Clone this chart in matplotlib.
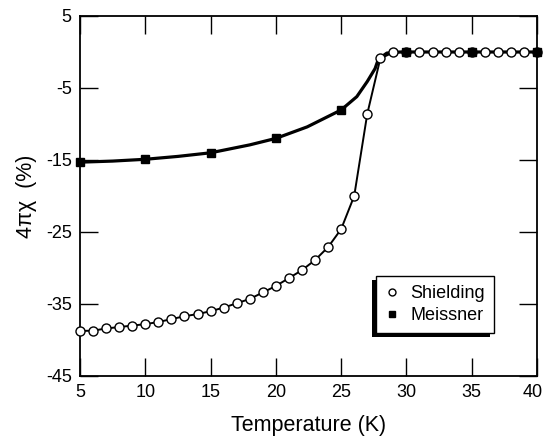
import matplotlib.pyplot as plt
import matplotlib.transforms as mtransforms
from matplotlib.lines import Line2D
from matplotlib.patches import Rectangle

plt.rcParams['font.family'] = ['Liberation Sans', 'DejaVu Sans']
plt.rcParams['axes.unicode_minus'] = False

# Shielding (ZFC) data, one point per K
shield_T = [5, 6, 7, 8, 9, 10, 11, 12, 13, 14, 15, 16, 17, 18, 19, 20, 21, 22,
            23, 24, 25, 26, 27, 28, 29, 30, 31, 32, 33, 34, 35, 36, 37, 38, 39, 40]
shield_chi = [-38.75, -38.7, -38.4, -38.2, -38.0, -37.8, -37.5, -37.1, -36.7,
              -36.4, -36.0, -35.5, -34.9, -34.3, -33.4, -32.5, -31.4, -30.3,
              -28.9, -27.1, -24.6, -20.0, -8.6, -0.9, -0.05, 0, 0, 0, 0, 0, 0,
              0, 0, 0, 0, 0]

# Meissner (FC) data
meis_T = [5, 10, 15, 20, 25, 30, 35, 40]
meis_chi = [-15.3, -14.9, -14.0, -12.0, -8.05, 0, 0, 0]

# smooth guide line
meis_line_T = [5, 7.5, 10, 12.5, 15, 16.5, 18, 20, 22.4, 25, 26.2, 27, 27.6,
               27.85, 28.5, 29.5, 30, 35, 40]
meis_line_chi = [-15.3, -15.15, -14.9, -14.5, -14.0, -13.45, -12.9, -12.0,
                 -10.4, -8.05, -6.2, -4.1, -2.3, -1.0, -0.15, 0, 0, 0, 0]

fig = plt.figure(figsize=(5.44, 4.46), dpi=100)
ax = fig.add_axes([80/544, 1 - 376/446, 457/544, 360/446])

ax.plot(meis_line_T, meis_line_chi, '-', color='black', lw=2.3, zorder=2)
ax.plot(shield_T, shield_chi, '-', color='black', lw=1.4, zorder=2)
ax.plot(shield_T, shield_chi, 'o', mfc='white', mec='black', ms=6.5, mew=1.0,
        zorder=3, clip_on=False)
ax.plot(meis_T, meis_chi, 's', color='black', ms=6, zorder=4, clip_on=False)

ax.set_xlim(5, 40)
ax.set_ylim(-45, 5)
ax.set_xticks(range(5, 41, 5))
ax.set_yticks([5, -5, -15, -25, -35, -45])
ax.tick_params(direction='in', length=13, width=1.0, top=True, right=True,
               labelsize=13, pad=6)
for s in ax.spines.values():
    s.set_linewidth(1.3)

# pull the last x label in a little so it stays inside the figure
last = ax.get_xticklabels()[-1]
last.set_transform(last.get_transform() +
                   mtransforms.ScaledTranslation(-4/100, 0, fig.dpi_scale_trans))

ax.set_xlabel('Temperature (K)', fontsize=15.5, labelpad=10)
ax.set_ylabel('4\u03c0\u03c7  (%)', fontsize=15.5, labelpad=6)

handles = [
    Line2D([], [], ls='none', marker='o', mfc='white', mec='black', ms=5, mew=1.0),
    Line2D([], [], ls='none', marker='s', color='black', ms=4.5),
]
leg = ax.legend(handles, ['Shielding', 'Meissner'], loc='lower right',
                bbox_to_anchor=((494 - 80) / 457, (376 - 333) / 360),
                borderaxespad=0, fontsize=13, handlelength=0.8,
                handletextpad=0.6, borderpad=0.5, labelspacing=0.25,
                fancybox=False, framealpha=1, edgecolor='black')
leg.get_frame().set_linewidth(1.0)
leg.set_zorder(6)

# shadow offset toward the lower left, as in the original
fig.canvas.draw()
bb = leg.get_window_extent().transformed(ax.transAxes.inverted())
shadow = Rectangle((bb.x0 - 4/457, bb.y0 - 4/360), bb.width, bb.height,
                   transform=ax.transAxes, facecolor='black', edgecolor='none',
                   zorder=5)
ax.add_patch(shadow)

plt.savefig('out.png', dpi=100)
